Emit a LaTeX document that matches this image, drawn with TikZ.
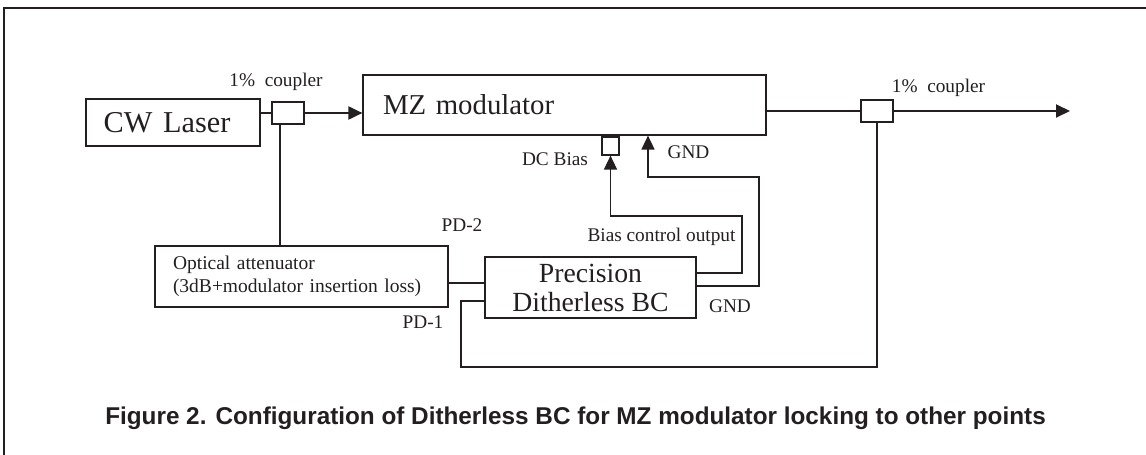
\documentclass[tikz,border=0pt]{standalone}
\usepackage{fontspec}
\setmainfont{Liberation Serif}
\setsansfont{Liberation Sans}
\usetikzlibrary{arrows.meta, positioning, calc}
\definecolor{inkDark}{HTML}{231F20}
\tikzset{
  blockbox/.style={draw=inkDark, line width=1.2pt, rectangle, inner sep=0pt, text=inkDark},
  couplerbox/.style={draw=inkDark, line width=1.2pt, fill=white, minimum width=32pt, minimum height=22pt, inner sep=0pt},
  fibre/.style={draw=inkDark, line width=2pt},
  fibrearr/.style={fibre, -{Triangle[length=14pt, width=13pt]}},
  wire/.style={draw=inkDark, line width=1.2pt},
  wirearr/.style={wire, line width=1.6pt, -{Triangle[length=14pt, width=13pt]}},
  smalllbl/.style={inner sep=0pt, text=inkDark, font=\fontsize{19.3}{22}\selectfont},
}

\begin{document}
\begin{tikzpicture}[x=1pt, y=-1pt]
    \useasboundingbox (0,0) rectangle (1146,455);
    \draw[inkDark, line width=1.5pt] (4,455) -- (4,8) -- (1146,8);
    \node[blockbox, minimum width=174pt, minimum height=47pt, font=\fontsize{30.3}{34}\selectfont] (laser) at (173,122.5) {CW\hspace{0.35em}Laser\hspace*{12pt}};
    \node[couplerbox] (c1) at (288,113) {};
    \node[blockbox, minimum height=60pt, text width=363pt, inner xsep=20pt, align=left, font=\fontsize{28.8}{32}\selectfont] (mz) at (564.5,105) {MZ modulator};
    \node[couplerbox] (c2) at (877,111) {};
    \node[blockbox, fill=white, minimum width=17pt, minimum height=18pt] (dcb) at (610.5,146) {};
    \node[blockbox, minimum height=61pt, text width=257pt, inner xsep=18pt, align=left, font=\fontsize{19.5}{23}\selectfont] (att) at (301.5,276.5)
      {Optical attenuator\\(3dB+modulator insertion loss)};
    \node[blockbox, minimum width=211pt, minimum height=61pt, align=center, font=\fontsize{27.7}{29}\selectfont] (bc) at (590.5,287.5)
      {Precision\\Ditherless BC};
    \coordinate (out) at (1070,111);
    \coordinate (loop) at (461,367);
    \coordinate (bco) at (742,216);
    \coordinate (gndc) at (759,177);
    \node[smalllbl] (c1lbl) at (276,82) {1\%\ \ coupler};
    \node[smalllbl] (c2lbl) at (938.5,88) {1\%\ \ coupler};
    \node[smalllbl] (dclbl) at (555,159) {DC Bias};
    \node[smalllbl] (gndtop) at (688.5,152) {GND};
    \node[smalllbl] (bcolbl) at (661.5,237) {Bias control output};
    \node[smalllbl] (pd2) at (462,225) {PD-2};
    \node[smalllbl] (pd1) at (423,322) {PD-1};
    \node[smalllbl] (gndbot) at (730,306) {GND};
    \node[inner sep=0pt, text=inkDark, font=\sffamily\bfseries\fontsize{24.3}{28}\selectfont] (caption) at (575.5,418)
      {Figure 2. Configuration of Ditherless BC for MZ modulator locking to other points};
    \draw[fibre] (laser.east |- c1.west) -- (c1.west);
    \draw[fibrearr] (c1.east) -- (c1.east -| mz.west);
    \draw[fibre] (mz.east |- c2.west) -- (c2.west);
    \draw[fibrearr] (c2.east) -- (out);
    \draw[wire] ([xshift=-8pt]c1.south) -- ([xshift=-8pt]c1.south |- att.north);
    \draw[wire] ([yshift=-6.5pt]att.east) -- ([yshift=-6.5pt]att.east -| bc.west);
    \draw[wire] (c2.south) |- (loop) |- ([yshift=-13.5pt]bc.west);
    \draw[wirearr] ([yshift=14.5pt]bc.east) -| (bco) -| (dcb.south);
    \draw[wirearr] ([yshift=1.5pt]bc.east) -| (gndc) -| ([xshift=83.5pt]mz.south);
\end{tikzpicture}
\end{document}
